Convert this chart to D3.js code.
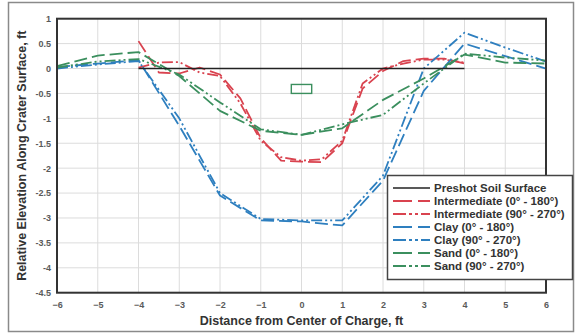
<!DOCTYPE html>
<html>
<head>
<meta charset="utf-8">
<script src="https://cdn.jsdelivr.net/npm/d3@7"></script>
<style>
  html, body { margin: 0; padding: 0; background: #fff; }
  svg { display: block; font-family: "Liberation Sans", Arial, sans-serif; }
</style>
</head>
<body>
<svg id="chart" width="578" height="334"></svg>
<script>
// Crater profiles: relative elevation vs. distance from centre of charge
const xTicks = [-6, -5, -4, -3, -2, -1, 0, 1, 2, 3, 4, 5, 6];
const yTicks = [1, 0.5, 0, -0.5, -1, -1.5, -2, -2.5, -3, -3.5, -4, -4.5];

const preshotX = [-4, 4];
const preshotY = [0, 0];

const intermX = [-4, -3.5, -3, -2.5, -2, -1.5, -1, -0.5, 0, 0.5, 1, 1.5, 2, 2.5, 3, 3.5, 4];
const interm0to180 = [0.55, -0.08, -0.1, 0.02, -0.12, -0.6, -1.4, -1.85, -1.87, -1.88, -1.5, -0.4, -0.05, 0.15, 0.2, 0.2, 0.1];
const interm90to270 = [0.02, 0.12, 0.13, -0.08, -0.15, -0.7, -1.45, -1.78, -1.85, -1.82, -1.45, -0.3, 0.0, 0.1, 0.18, 0.18, 0.12];

const fullX = [-6, -5, -4, -3, -2, -1, 0, 1, 2, 3, 4, 5, 6];
const clay0to180 = [0.03, 0.1, 0.17, -1.15, -2.55, -3.05, -3.07, -3.15, -2.25, -0.45, 0.5, 0.25, 0.0];
const clay90to270 = [0.0, 0.08, 0.15, -1.0, -2.5, -3.02, -3.05, -3.05, -2.15, 0.0, 0.72, 0.42, 0.14];
const sand0to180 = [0.05, 0.26, 0.33, -0.15, -0.85, -1.25, -1.33, -1.2, -0.63, -0.2, 0.28, 0.12, 0.1];
const sand90to270 = [0.02, 0.14, 0.19, -0.12, -0.68, -1.22, -1.33, -1.12, -0.93, -0.3, 0.3, 0.22, 0.16];

// small outlined marker box near the crater centre (data units)
const boxX = [-0.25, 0.25];
const boxY = [-0.32, -0.5];

const seriesNames = [
  "Preshot Soil Surface",
  "Intermediate (0\u00b0 - 180\u00b0)",
  "Intermediate (90\u00b0 - 270\u00b0)",
  "Clay (0\u00b0 - 180\u00b0)",
  "Clay (90\u00b0 - 270\u00b0)",
  "Sand (0\u00b0 - 180\u00b0)",
  "Sand (90\u00b0 - 270\u00b0)"
];

const RED = "#d9434f", BLUE = "#2e7fbf", GREEN = "#3b8f5e", BLACK = "#222";
const DASH = "13,5";
const DASHDOT = "11,3,2,3,2,3";

const series = [
  { name: seriesNames[0], xs: preshotX, ys: preshotY, color: BLACK, dash: null, w: 1.6 },
  { name: seriesNames[1], xs: intermX, ys: interm0to180, color: RED, dash: DASH, w: 1.8 },
  { name: seriesNames[2], xs: intermX, ys: interm90to270, color: RED, dash: DASHDOT, w: 1.8 },
  { name: seriesNames[3], xs: fullX, ys: clay0to180, color: BLUE, dash: DASH, w: 1.8 },
  { name: seriesNames[4], xs: fullX, ys: clay90to270, color: BLUE, dash: DASHDOT, w: 1.8 },
  { name: seriesNames[5], xs: fullX, ys: sand0to180, color: GREEN, dash: DASH, w: 1.8 },
  { name: seriesNames[6], xs: fullX, ys: sand90to270, color: GREEN, dash: DASHDOT, w: 1.8 }
];

const svg = d3.select("#chart");
const plot = { left: 57, right: 546, top: 18.7, bottom: 292.7 };

const x = d3.scaleLinear().domain([-6, 6]).range([plot.left, plot.right]);
const y = d3.scaleLinear().domain([-4.5, 1]).range([plot.bottom, plot.top]);

// outer frame
svg.append("rect")
  .attr("x", 8.5).attr("y", 2.5).attr("width", 565).attr("height", 329)
  .attr("fill", "#fff").attr("stroke", "#8a8a8a").attr("stroke-width", 1.5);

// gridlines
const grid = svg.append("g").attr("stroke", "#dcdcdc").attr("stroke-width", 1);
grid.selectAll("line.v").data(xTicks).join("line")
  .attr("x1", d => x(d)).attr("x2", d => x(d))
  .attr("y1", plot.top).attr("y2", plot.bottom);
grid.selectAll("line.h").data(yTicks).join("line")
  .attr("x1", plot.left).attr("x2", plot.right)
  .attr("y1", d => y(d)).attr("y2", d => y(d));

// axes (labels only; frame drawn separately)
const xAxis = svg.append("g")
  .attr("transform", `translate(0,${plot.bottom})`)
  .call(d3.axisBottom(x).tickValues(xTicks).tickSize(0).tickPadding(9).tickFormat(d3.format("d")));
const yAxis = svg.append("g")
  .attr("transform", `translate(${plot.left},0)`)
  .call(d3.axisLeft(y).tickValues(yTicks).tickSize(0).tickPadding(6).tickFormat(d => String(d)));
[xAxis, yAxis].forEach(g => {
  g.select(".domain").remove();
  g.selectAll("text")
    .attr("fill", "#5a5a5a")
    .style("font-size", "9px")
    .style("font-weight", "bold");
});

// marker box
svg.append("rect")
  .attr("x", x(boxX[0])).attr("y", y(boxY[0]))
  .attr("width", x(boxX[1]) - x(boxX[0]))
  .attr("height", y(boxY[1]) - y(boxY[0]))
  .attr("fill", "none").attr("stroke", GREEN).attr("stroke-width", 1.4);

// series lines
const line = d3.line().x(d => x(d[0])).y(d => y(d[1]));
const lines = svg.append("g");
series.slice(1).concat([series[0]]).forEach(s => {
  lines.append("path")
    .datum(s.xs.map((v, i) => [v, s.ys[i]]))
    .attr("d", line)
    .attr("fill", "none")
    .attr("stroke", s.color)
    .attr("stroke-width", s.w)
    .attr("stroke-linejoin", "round")
    .attr("stroke-dasharray", s.dash);
});

// plot frame
svg.append("rect")
  .attr("x", plot.left).attr("y", plot.top)
  .attr("width", plot.right - plot.left).attr("height", plot.bottom - plot.top)
  .attr("fill", "none").attr("stroke", "#333").attr("stroke-width", 2);

// axis titles
svg.append("text")
  .attr("x", (plot.left + plot.right) / 2).attr("y", 325)
  .attr("text-anchor", "middle")
  .attr("fill", "#333").style("font-size", "12.5px").style("font-weight", "bold")
  .text("Distance from Center of Charge, ft");
svg.append("text")
  .attr("transform", `translate(26,${(plot.top + plot.bottom) / 2}) rotate(-90)`)
  .attr("text-anchor", "middle")
  .attr("fill", "#333").style("font-size", "12.5px").style("font-weight", "bold")
  .text("Relative Elevation Along Crater Surface, ft");

// legend
const leg = svg.append("g");
leg.append("rect")
  .attr("x", 387.5).attr("y", 175.5).attr("width", 185).attr("height", 104)
  .attr("fill", "#fff").attr("stroke", "#444").attr("stroke-width", 1.5);
series.forEach((s, i) => {
  const cy = 188 + i * 13;
  leg.append("line")
    .attr("x1", 393).attr("x2", 430).attr("y1", cy).attr("y2", cy)
    .attr("stroke", s.color).attr("stroke-width", s.w)
    .attr("stroke-dasharray", s.dash ? (s.dash === DASH ? "19,6" : "13,3,3,3,3,3") : null);
  leg.append("text")
    .attr("x", 434).attr("y", cy + 4)
    .attr("fill", "#333").style("font-size", "11.5px").style("font-weight", "bold")
    .text(s.name);
});
</script>
</body>
</html>
